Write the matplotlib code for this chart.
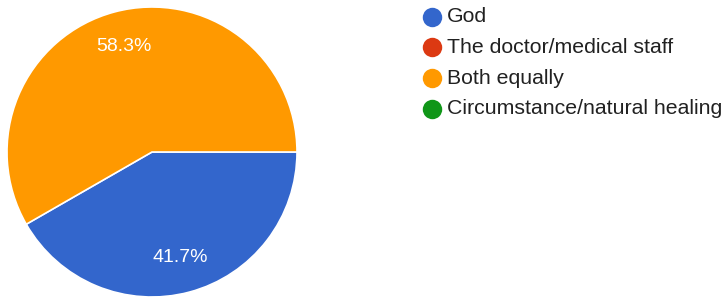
import numpy as np
import matplotlib.pyplot as plt
from matplotlib.lines import Line2D

plt.rcParams['font.family'] = ['Liberation Sans', 'DejaVu Sans']

labels = ["God", "The doctor/medical staff", "Both equally", "Circumstance/natural healing"]
shares = [41.7, 0.0, 58.3, 0.0]
colors = ["#3366cc", "#dc3912", "#ff9900", "#109618"]

W, H = 728, 299
fig = plt.figure(figsize=(W / 100, H / 100), dpi=100)

# pie
ax = fig.add_axes([7 / W, 2 / H, 290 / W, 290 / H])
vals = np.array(shares)
keep = vals > 0
wedges, texts, autotexts = ax.pie(
    vals[keep], colors=np.array(colors)[keep], startangle=0, counterclock=False,
    autopct="%.1f%%", pctdistance=0.75, radius=1.0,
    wedgeprops=dict(edgecolor="white", linewidth=1.2),
    textprops=dict(color="white", fontsize=14),
)
ax.set_xlim(-1.0, 1.0)
ax.set_ylim(-1.0, 1.0)
ax.set_aspect("equal")

# legend drawn by hand to get google-forms spacing
for i, (lab, col) in enumerate(zip(labels, colors)):
    y = 1 - (16.5 + 30.8 * i) / H
    fig.add_artist(Line2D([432 / W], [y], marker="o", markersize=14,
                          color=col, markeredgewidth=0, transform=fig.transFigure))
    fig.text(447 / W, y, lab, fontsize=15.3, color="#212121", va="center", ha="left")

fig.savefig("out.png", dpi=100)
